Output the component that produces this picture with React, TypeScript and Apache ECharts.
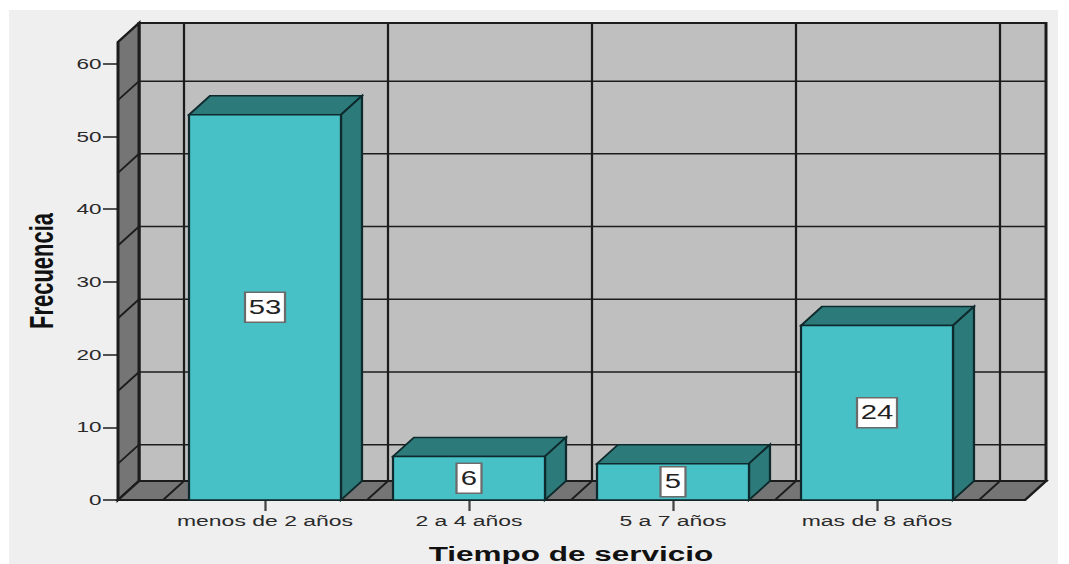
import React, { useEffect, useRef } from "react";
import * as echarts from "echarts";

const categories = ["menos de 2 años", "2 a 4 años", "5 a 7 años", "mas de 8 años"];
const frecuencia = [53, 6, 5, 24];
const yTicks = [0, 10, 20, 30, 40, 50, 60];
const wallLines = [5, 15, 25, 35, 45, 55];
const yMax = 63;

const S = 1.5;
const W = 1069 / S;
const H = 564;
const DX = 21 / S;
const DY = 19;
const LINE = "#1c1c1c";

export default function App() {
  const ref = useRef<HTMLDivElement>(null);
  useEffect(() => {
    const chart = echarts.init(ref.current!, null, { renderer: "svg" });
    const wall = (params: any, api: any) => {
      const cs = params.coordSys;
      const y0 = api.coord([0, 0])[1];
      const yTop = api.coord([0, yMax])[1];
      const xL = cs.x - 45 / S;
      const xR = cs.x + cs.width + 46 / S;
      const bandW = cs.width / categories.length;
      const ls = { stroke: LINE, lineWidth: 1.5 };
      const kids: any[] = [
        { type: "rect", shape: { x: xL + DX, y: yTop - DY, width: xR - xL, height: y0 - yTop }, style: { fill: "#bfbfbf", stroke: LINE, lineWidth: 2 } },
        { type: "polygon", shape: { points: [[xL, yTop], [xL + DX, yTop - DY], [xL + DX, y0 - DY], [xL, y0]] }, style: { fill: "#757575", stroke: LINE, lineWidth: 2 } },
        { type: "polygon", shape: { points: [[xL, y0], [xL + DX, y0 - DY], [xR + DX, y0 - DY], [xR, y0]] }, style: { fill: "#757575", stroke: LINE, lineWidth: 2 } },
      ];
      wallLines.forEach((v) => {
        const y = api.coord([0, v])[1];
        kids.push({ type: "polyline", shape: { points: [[xL, y], [xL + DX, y - DY], [xR + DX, y - DY]] }, style: { ...ls, fill: "none" } });
      });
      for (let i = 0; i <= categories.length; i++) {
        const x = cs.x + i * bandW;
        kids.push({ type: "polyline", shape: { points: [[x, y0], [x + DX, y0 - DY], [x + DX, yTop - DY]] }, style: { ...ls, fill: "none" } });
      }
      kids.push({ type: "line", shape: { x1: xL, y1: y0, x2: xR, y2: y0 }, style: { stroke: LINE, lineWidth: 2 } });
      return { type: "group", silent: true, children: kids };
    };
    const bar = (_: any, api: any) => {
      const i = api.value(0);
      const v = api.value(1);
      const [cx, yt] = api.coord([i, v]);
      const y0 = api.coord([i, 0])[1];
      const yMid = api.coord([i, v / 2])[1];
      const w = api.size([1, 0])[0] * 0.745;
      const x0 = cx - w / 2;
      const x1 = cx + w / 2;
      const st = { stroke: "#0f2a2c", lineWidth: 1.5 };
      const boxW = String(v).length > 1 ? 40 / S : 25 / S;
      return {
        type: "group",
        children: [
          { type: "polygon", shape: { points: [[x0, yt], [x0 + DX, yt - DY], [x1 + DX, yt - DY], [x1, yt]] }, style: { fill: "#2d7a7b", ...st } },
          { type: "polygon", shape: { points: [[x1, yt], [x1 + DX, yt - DY], [x1 + DX, y0 - DY], [x1, y0]] }, style: { fill: "#2d7a7b", ...st } },
          { type: "rect", shape: { x: x0, y: yt, width: w, height: y0 - yt }, style: { fill: "#47c1c6", ...st } },
          { type: "rect", shape: { x: cx - boxW / 2, y: yMid - 15, width: boxW, height: 30 }, style: { fill: "#ffffff", stroke: "#6b6b6b", lineWidth: 1.5 } },
          { type: "text", x: cx, y: yMid, style: { text: String(v), fill: "#222", font: "19.5px 'Liberation Sans'", align: "center", verticalAlign: "middle" } },
        ],
      };
    };
    chart.setOption({
      animation: false,
      backgroundColor: "transparent",
      grid: { left: 163 / S, width: 816 / S, top: 42, height: 458, outerBoundsMode: "none", containLabel: false },
      xAxis: {
        type: "category",
        data: categories,
        name: "Tiempo de servicio",
        nameLocation: "middle",
        nameGap: 43,
        nameTextStyle: { fontFamily: "Liberation Sans", fontWeight: "bold", fontSize: 21, color: "#111" },
        axisLine: { show: true, lineStyle: { color: LINE, width: 2 } },
        axisTick: { show: true, alignWithLabel: true, length: 11, lineStyle: { color: "#444", width: 1.5 } },
        axisLabel: { margin: 13, fontFamily: "Liberation Sans", fontSize: 15.3, color: "#2a2a2a", interval: 0 },
      },
      yAxis: {
        type: "value",
        min: 0,
        max: yMax,
        interval: 10,
        offset: 45 / S,
        name: "Frecuencia",
        nameLocation: "middle",
        nameGap: 40,
        nameRotate: 90,
        nameMoveOverlap: false,
        nameTextStyle: { fontFamily: "Liberation Sans", fontWeight: "bold", fontSize: 22, color: "#111" },
        splitLine: { show: false },
        axisLine: { show: true, lineStyle: { color: LINE, width: 2 } },
        axisTick: { show: true, length: 10, customValues: yTicks, lineStyle: { color: LINE, width: 1.5 } },
        axisLabel: { margin: 11, customValues: yTicks, fontFamily: "Liberation Sans", fontSize: 15, color: "#2a2a2a" },
      },
      series: [
        { type: "custom", z: 1, silent: true, renderItem: wall, data: [[0, 0]], encode: { x: 0, y: 1 } },
        { type: "custom", z: 2, silent: true, renderItem: bar, data: frecuencia.map((v, i) => [i, v]), encode: { x: 0, y: 1 } },
      ],
    });
    return () => chart.dispose();
  }, []);
  return (
    <div style={{ position: "fixed", left: 0, top: 0, width: 1069, height: H, background: "#ffffff", overflow: "hidden" }}>
      <div style={{ position: "absolute", left: 9, top: 10, width: 1049, height: H - 10, background: "#efefef" }} />
      <div ref={ref} style={{ position: "absolute", left: 0, top: 0, width: W, height: H, transform: `scaleX(${S})`, transformOrigin: "left top" }} />
    </div>
  );
}
